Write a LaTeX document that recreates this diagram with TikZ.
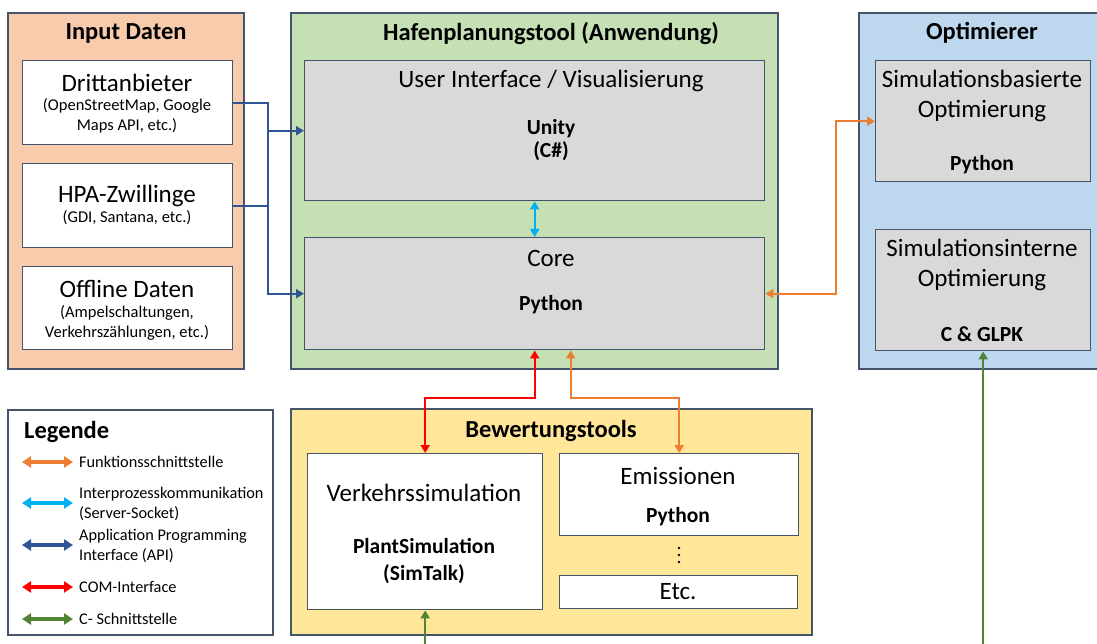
\documentclass[tikz,border=0pt]{standalone}
\usepackage{fontspec}
\setmainfont{Carlito}
\usetikzlibrary{arrows.meta,calc}
\definecolor{edge}{HTML}{44546A}
\definecolor{inputfill}{HTML}{F8CBAD}
\definecolor{appfill}{HTML}{C5E0B4}
\definecolor{optfill}{HTML}{BDD7EE}
\definecolor{evalfill}{HTML}{FFE699}
\definecolor{boxgray}{HTML}{D9D9D9}
\definecolor{apiblue}{HTML}{2F5597}
\definecolor{fnorange}{HTML}{ED7D31}
\definecolor{ipccyan}{HTML}{00B0F0}
\definecolor{comred}{HTML}{FF0000}
\definecolor{cgreen}{HTML}{548235}
\tikzset{
  hd/.tip={Triangle[length=8pt,width=9pt]},
  lhd/.tip={Triangle[length=9pt,width=11pt]},
  panel/.style={draw=edge, line width=1.4pt, anchor=north west, inner sep=0pt, outer sep=0pt},
  inner/.style={draw=edge, line width=1.4pt, anchor=north west, inner sep=0pt, outer sep=0.7pt},
  ttl/.style={font=\fontsize{24.5}{28}\selectfont\bfseries, inner sep=0pt},
  big/.style={font=\fontsize{25}{29.5}\selectfont, inner sep=0pt, align=center},
  bld/.style={font=\fontsize{21.5}{27}\selectfont\bfseries, inner sep=0pt, align=center},
  sml/.style={font=\fontsize{16.5}{20.5}\selectfont, inner sep=0pt, align=center},
  leg/.style={font=\fontsize{16.3}{20}\selectfont, inner sep=0pt, align=left, anchor=west},
  wire/.style={line width=2.2pt},
  api/.style={wire, draw=apiblue, -{hd}},
  fn/.style={wire, draw=fnorange, {hd}-{hd}},
  ipc/.style={wire, draw=ipccyan, {hd}-{hd}},
  com/.style={wire, draw=comred, {hd}-{hd}},
  cif/.style={wire, draw=cgreen, -{hd}},
  legarrow/.style={line width=3.2pt, {lhd}-{lhd}},
}
\begin{document}
\begin{tikzpicture}[x=1pt,y=-1pt]
\useasboundingbox (0,0) rectangle (1097,644);

% ---------- Input Daten ----------
\node[panel, fill=inputfill, minimum width=236pt, minimum height=356pt] (input) at (8,13) {};
\node[ttl] at (126,33) {Input Daten};
\node[inner, fill=white, minimum width=210pt, minimum height=84pt] (dritt) at (22,60) {};
\node[big] at (127,83) {Drittanbieter};
\node[sml] at (127,116) {(OpenStreetMap, Google\\Maps API, etc.)};
\node[inner, fill=white, minimum width=210pt, minimum height=84pt] (hpa) at (22,163) {};
\node[big] at (127,196) {HPA-Zwillinge};
\node[sml] at (127,218) {(GDI, Santana, etc.)};
\node[inner, fill=white, minimum width=210pt, minimum height=83pt] (offline) at (22,266) {};
\node[big] at (127,289) {Offline Daten};
\node[sml] at (127,323) {(Ampelschaltungen,\\Verkehrszählungen, etc.)};

% ---------- Hafenplanungstool ----------
\node[panel, fill=appfill, minimum width=487pt, minimum height=356pt] (app) at (291,13) {};
\node[ttl] at (551,33) {Hafenplanungstool (Anwendung)};
\node[inner, fill=boxgray, minimum width=460pt, minimum height=140pt] (ui) at (304,60) {};
\node[big] at (551,81) {User Interface / Visualisierung};
\node[bld, font=\fontsize{21.5}{23}\selectfont\bfseries] at (551,140) {Unity\\(C\#)};
\node[inner, fill=boxgray, minimum width=460pt, minimum height=112pt] (core) at (304,237) {};
\node[big] at (551,258) {Core};
\node[bld] at (551,305) {Python};

% ---------- Optimierer ----------
\node[panel, fill=optfill, minimum width=245pt, minimum height=356pt] (opt) at (859,13) {};
\node[ttl] at (982,33) {Optimierer};
\node[inner, fill=boxgray, minimum width=215pt, minimum height=121pt] (opt1) at (875,60) {};
\node[big] at (982,96) {Simulationsbasierte\\Optimierung};
\node[bld] at (982,165) {Python};
\node[inner, fill=boxgray, minimum width=215pt, minimum height=121pt] (opt2) at (875,229) {};
\node[big] at (982,265) {Simulationsinterne\\Optimierung};
\node[bld] at (982,334) {C \& GLPK};

% ---------- Bewertungstools ----------
\node[panel, fill=evalfill, minimum width=521pt, minimum height=226pt] (eval) at (291,409) {};
\node[ttl] at (551,431) {Bewertungstools};
\node[inner, fill=white, minimum width=235pt, minimum height=156pt] (verk) at (307,453) {};
\node[big] at (424,493) {Verkehrssimulation};
\node[bld] at (424,561) {PlantSimulation\\(SimTalk)};
\node[inner, fill=white, minimum width=239pt, minimum height=82pt] (emis) at (559,453) {};
\node[big] at (678,476) {Emissionen};
\node[bld] at (678,517) {Python};
% vertical ellipsis between the tool boxes
\foreach \dy in {548,555,562} \fill (679,\dy) circle (1.4pt);
\node[inner, fill=white, minimum width=238pt, minimum height=33pt] (etc) at (559,575) {};
\node[big] at (678,592) {Etc.};

% ---------- Legende ----------
\node[panel, fill=white, minimum width=265pt, minimum height=225pt] (legend) at (8,410) {};
\node[ttl, anchor=west] at (24,432) {Legende};
\draw[legarrow, draw=fnorange]  (22,462) -- (73,462);
\node[leg] at (79,462) {Funktionsschnittstelle};
\draw[legarrow, draw=ipccyan]   (22,503) -- (73,503);
\node[leg] at (79,504) {Interprozesskommunikation\\(Server-Socket)};
\draw[legarrow, draw=apiblue]   (22,545) -- (73,545);
\node[leg] at (79,546) {Application Programming\\Interface (API)};
\draw[legarrow, draw=comred]    (22,587) -- (73,587);
\node[leg] at (79,587) {COM-Interface};
\draw[legarrow, draw=cgreen]    (22,619) -- (73,619);
\node[leg] at (79,619) {C- Schnittstelle};

% ---------- connectors ----------
\coordinate (bus) at (268,0);
\coordinate (split) at (0,398);
\coordinate (riser) at (836,0);
\coordinate (bottom) at (0,650);

% API links from the data sources
\draw[api] (dritt.east) -- (dritt.east -| bus) |- (core.west);
\draw[wire, draw=apiblue] (hpa.east) -- (hpa.east -| bus);
\draw[api] (ui.west -| bus) -- (ui.west);

% socket between UI and core
\draw[ipc] (ui.south) -- (core.south |- core.north);

% function interface to the optimiser
\draw[fn] (core.east) -- (core.east -| riser) |- (opt1.west);

% links to the evaluation tools
\draw[com] (core.south) -- (core.south |- split) -| (verk.north);
\draw[fn] ([xshift=36pt]core.south) -- ([xshift=36pt]core.south |- split) -| (emis.north);

% C interfaces leaving the picture at the bottom
\draw[cif] (verk.south |- bottom) -- (verk.south);
\draw[cif] (opt2.south |- bottom) -- (opt2.south);
\end{tikzpicture}
\end{document}
